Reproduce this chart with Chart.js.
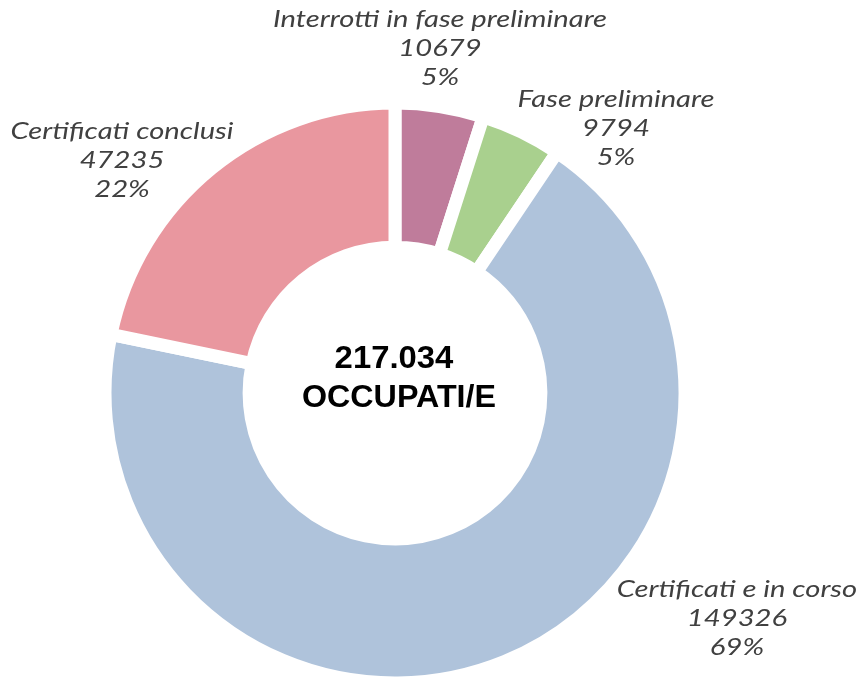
<!DOCTYPE html>
<html>
<head>
<meta charset="utf-8">
<script src="https://cdn.jsdelivr.net/npm/chart.js@4"></script>
<style>
  html, body { margin: 0; padding: 0; background: #ffffff; }
  #wrap { width: 858px; height: 677px; position: relative; }
</style>
</head>
<body>
<div id="wrap"><canvas id="c" width="858" height="677"></canvas></div>
<script>
const categories = ["Interrotti in fase preliminare", "Fase preliminare", "Certificati e in corso", "Certificati conclusi"];
const values = [10679, 9794, 149326, 47235];
const colors = ["#BF7C9B", "#A9D08E", "#AFC3DB", "#E9979F"];
const centerLines = ["OCCUPATI/E"];
// label anchor positions (text layout only)
const labelPos = [[440, 20], [616, 100], [737, 590], [122, 132]];

const total = values.reduce((a, b) => a + b, 0);
function fmtIt(n) { return String(n).replace(/\B(?=(\d{3})+(?!\d))/g, "."); }

function drawStretched(ctx, text, x, y, sx) {
  ctx.save();
  ctx.translate(x, y);
  ctx.scale(sx, 1);
  ctx.fillText(text, 0, 0);
  ctx.restore();
}

const labelPlugin = {
  id: "labels",
  afterDraw(chart) {
    const ctx = chart.ctx;
    ctx.save();
    ctx.fillStyle = "#404040";
    ctx.font = "italic 23px Lato";
    ctx.textAlign = "center";
    ctx.textBaseline = "middle";
    categories.forEach((c, i) => {
      const [x, y] = labelPos[i];
      const pct = Math.round(values[i] / total * 100) + "%";
      const lines = [c, String(values[i]), pct];
      lines.forEach((t, k) => drawStretched(ctx, t, x, y + k * 29, 1.27));
    });
    const meta = chart.getDatasetMeta(0);
    const cx = meta.data[0].x, cy = meta.data[0].y;
    ctx.fillStyle = "#000000";
    ctx.font = "bold 31px 'Liberation Sans', Arial";
    drawStretched(ctx, fmtIt(total), cx - 1, cy - 34, 1.06);
    drawStretched(ctx, centerLines[0], cx + 4, cy + 5, 1.04);
    ctx.restore();
  }
};

new Chart(document.getElementById("c"), {
  type: "doughnut",
  data: {
    labels: categories,
    datasets: [{
      data: values,
      backgroundColor: colors,
      borderColor: "#ffffff",
      borderWidth: 13,
      borderJoinStyle: "miter",
      hoverOffset: 0,
      hoverBorderWidth: 13
    }]
  },
  options: {
    responsive: false,
    animation: false,
    radius: 290,
    cutout: "50.3%",
    rotation: 0,
    layout: { padding: { left: 100, right: 168, top: 112, bottom: 3 } },
    plugins: { legend: { display: false }, tooltip: { enabled: false } }
  },
  plugins: [labelPlugin]
});
</script>
</body>
</html>
